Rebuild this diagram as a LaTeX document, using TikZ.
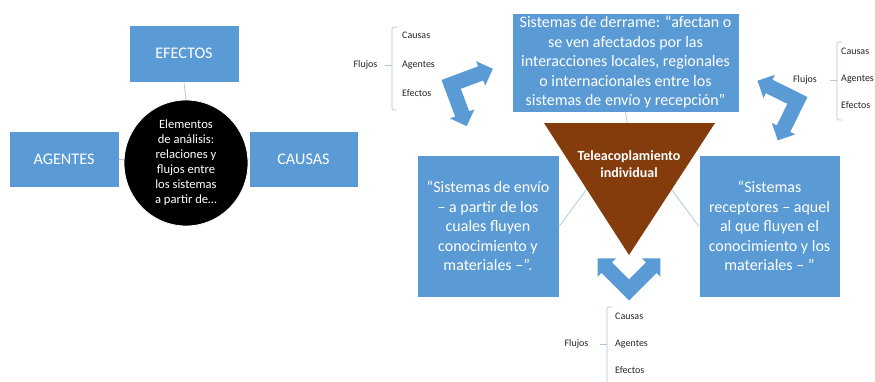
\documentclass[tikz,border=0pt]{standalone}
\usepackage{fontspec}
\setmainfont{Carlito}
\usetikzlibrary{shapes.geometric}
\definecolor{boxblue}{HTML}{5B9BD5}
\definecolor{tribrown}{HTML}{843C0C}
\definecolor{linkc}{HTML}{A9C4E4}
\definecolor{bracec}{HTML}{B4C4D8}
\definecolor{labelc}{HTML}{262626}
\tikzset{
  bluebox/.style={fill=boxblue, draw=white, line width=0.8pt, text=white, inner sep=0pt, align=center, font=\fontsize{16}{19.5}\selectfont},
  capsbox/.style={bluebox, font=\fontsize{16.2}{19.5}\selectfont},
  hubellipse/.style={ellipse, fill=black, draw=white, line width=0.8pt, text=white, inner sep=0pt, align=center, minimum width=124pt, minimum height=126pt, font=\fontsize{12.6}{15}\selectfont},
  link/.style={draw=linkc, line width=0.7pt},
  bracket/.style={draw=bracec, line width=0.7pt, rounded corners=2pt},
  flowlabel/.style={text=labelc, inner sep=0pt, font=\fontsize{10}{12}\selectfont},
  bentarrow/.pic={\fill[boxblue] (0,0) -- (39,0) -- (39,-5.5) -- (52,7.5) -- (39,20.5) -- (39,15) -- (15,15) -- (15,39) -- (20.5,39) -- (7.5,52) -- (-5.5,39) -- (0,39) -- cycle;}
}
\begin{document}
\begin{tikzpicture}[x=1pt,y=-1pt]
\useasboundingbox (0,0) rectangle (875,381);
\fill[white] (0,0) rectangle (875,381);

% ---- left cluster ----
\node[capsbox, minimum width=110pt, minimum height=57pt] (efectos) at (184,53.5) {EFECTOS};
\node[capsbox, minimum width=110pt, minimum height=56pt] (agentes) at (64,159) {AGENTES};
\node[capsbox, minimum width=109pt, minimum height=56pt] (causas) at (303.5,159) {CAUSAS};
\draw[link] (efectos.south) -- (186,100);
\draw[link] (agentes.east) -- (124,159);
\draw[link] (causas.west) -- (248,159);
\node[hubellipse] (elem) at (186,163) {Elementos\\de análisis:\\relaciones y\\flujos entre\\los sistemas\\a partir de…};

% ---- right cluster: connectors behind ----
\node[bluebox, minimum width=227pt, minimum height=99pt] (derrame) at (625.5,62.5) {Sistemas de derrame: “afectan o\\se ven afectados por las\\interacciones locales, regionales\\o internacionales entre los\\sistemas de envío y recepción”};
\node[bluebox, minimum width=142pt, minimum height=142pt] (envio) at (488,226) {“Sistemas de envío\\– a partir de los\\cuales fluyen\\conocimiento y\\materiales –”.};
\node[bluebox, minimum width=141pt, minimum height=142pt] (receptores) at (769.5,226) {“Sistemas\\receptores – aquel\\al que fluyen el\\conocimiento y los\\materiales – ”};
\coordinate (hub) at (629,132);
\draw[link] (derrame.south) -- (hub);
\draw[link] (hub) -- (envio.east);
\draw[link] (hub) -- (receptores.west);

% triangle
\fill[tribrown] (544,123) -- (715,123) -- (629,255) -- cycle;
\node[text=white, align=center, inner sep=0pt, font=\bfseries\fontsize{14}{17}\selectfont] (tele) at (629,164) {Teleacoplamiento\\individual};

% bent double arrows
\begin{scope}[shift={(441.5,80)}, x={(0.937pt,0.350pt)}, y={(0.350pt,-0.937pt)}]
  \pic {bentarrow};
\end{scope}
\begin{scope}[shift={(807.5,97)}, x={(-0.897pt,0.443pt)}, y={(-0.443pt,-0.897pt)}]
  \pic {bentarrow};
\end{scope}
\begin{scope}[shift={(629,300.5)}, x={(-0.7071pt,0.7071pt)}, y={(0.7071pt,0.7071pt)}]
  \pic {bentarrow};
\end{scope}

% ---- flow groups ----
% group 1
\node[flowlabel] (f1) at (365.5,65) {Flujos};
\node[flowlabel, anchor=west] (c1) at (402,35) {Causas};
\node[flowlabel, anchor=west] (a1) at (402,65) {Agentes};
\node[flowlabel, anchor=west] (e1) at (402,93) {Efectos};
\draw[bracket] (397,27) -- (392,27) -- (392,110) -- (397,110);
\draw[bracket] (385,65) -- (392,65);
% group 2
\node[flowlabel] (f2) at (805,80) {Flujos};
\node[flowlabel, anchor=west] (c2) at (841,51) {Causas};
\node[flowlabel, anchor=west] (a2) at (841,79) {Agentes};
\node[flowlabel, anchor=west] (e2) at (841,105) {Efectos};
\draw[bracket] (842,42) -- (837,42) -- (837,120) -- (842,120);
\draw[bracket] (830,80) -- (837,80);
% group 3
\node[flowlabel] (f3) at (576.5,344) {Flujos};
\node[flowlabel, anchor=west] (c3) at (615,316) {Causas};
\node[flowlabel, anchor=west] (a3) at (615,344) {Agentes};
\node[flowlabel, anchor=west] (e3) at (615,370) {Efectos};
\draw[bracket] (612,307) -- (607,307) -- (607,386) -- (612,386);
\draw[bracket] (600,344) -- (607,344);
\end{tikzpicture}
\end{document}
